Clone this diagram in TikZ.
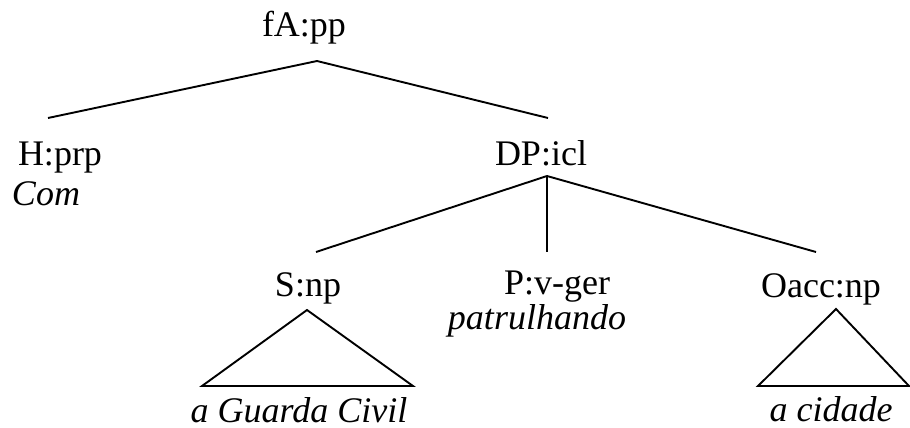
\documentclass[tikz,border=0pt]{standalone}
\usepackage{fontspec}
\setmainfont{Liberation Serif}
\begin{document}
\begin{tikzpicture}[x=1pt,y=-1pt,
  lbl/.style={anchor=base,inner sep=0pt,font=\fontsize{36}{43}\selectfont},
  wrd/.style={lbl,font=\fontsize{36}{43}\selectfont\itshape},
  edge/.style={line width=1.9pt,line join=miter}]
\useasboundingbox (0,0) rectangle (910,428);
% labels
\node[lbl] (fA) at (304,37) {fA:pp};
\node[lbl] (H) at (60,165) {H:prp};
\node[wrd] (com) at (46,205) {Com};
\node[lbl] (DP) at (541,165) {DP:icl};
\node[lbl] (S) at (308,296) {S:np};
\node[lbl] (P) at (557,294) {P:v-ger};
\node[wrd] (pat) at (537,329) {patrulhando};
\node[lbl] (O) at (821,297) {Oacc:np};
\node[wrd] (agc) at (299,422) {a Guarda Civil};
\node[wrd] (acid) at (831,421) {a cidade};
% attachment points
\coordinate (fAb) at (317,61);
\coordinate (Ht) at (48,118);
\coordinate (DPt) at (548,118);
\coordinate (DPb) at (547,176);
\coordinate (St) at (316,252);
\coordinate (Pt) at (547,252);
\coordinate (Ot) at (816,252);
\coordinate (Sa) at (307,310);
\coordinate (Sl) at (202,386);
\coordinate (Sr) at (413,386);
\coordinate (Oa) at (836,309);
\coordinate (Ol) at (758,386);
\coordinate (Or) at (909,386);
% edges
\draw[edge] (Ht) -- (fAb) -- (DPt);
\draw[edge] (St) -- (DPb) -- (Ot);
\draw[edge] (DPb) -- (Pt);
\draw[edge] (Sa) -- (Sl) -- (Sr) -- cycle;
\draw[edge] (Oa) -- (Ol) -- (Or) -- cycle;
\end{tikzpicture}
\end{document}
